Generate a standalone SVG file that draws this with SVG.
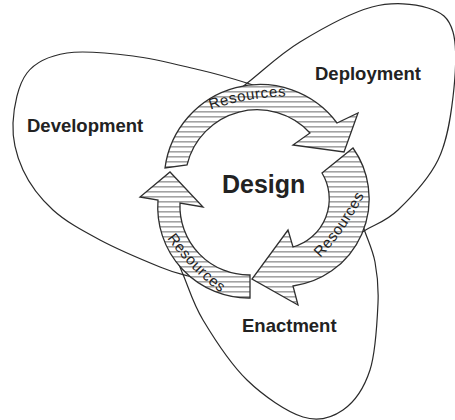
<svg xmlns="http://www.w3.org/2000/svg" width="455" height="420" viewBox="0 0 455 420">
<style>
.petal{fill:none;stroke:#2a2a2a;stroke-width:1.2}
.arrow{fill:url(#hatch);stroke:#2f2f2f;stroke-width:1.3;stroke-linejoin:miter}
.lbl{font-family:"Liberation Sans",Arial,sans-serif;font-weight:bold;font-size:18.5px;fill:#222}
.res{font-family:"Liberation Sans",Arial,sans-serif;font-size:15px;letter-spacing:0.6px;fill:#222}
</style>
<defs>
<pattern id="hatch" patternUnits="userSpaceOnUse" width="10" height="5">
<rect width="10" height="5" fill="#fff"/>
<rect y="1" width="10" height="1.6" fill="#a3a3a3"/>
</pattern>
<path id="pTop" d="M 205,111.5 A 250 250 0 0 1 292,96.5"/>
<path id="pRight" d="M 314,264 A 250 250 0 0 0 368,187"/>
<path id="pLeft" d="M 164,234 A 250 250 0 0 0 225,296"/>
</defs>
<rect width="455" height="420" fill="#fff"/>
<g id="development">
<path class="petal" d="M 270,91 L 250,84 C 233.3,78.7 219.5,74.5 200,70 C 180.5,65.5 155.2,58.8 133,56 C 110.8,53.2 84.7,50.2 67,53 C 49.3,55.8 36,61.3 27,73 C 18,84.7 13.7,106.8 13,123 C 12.3,139.2 16.3,155.5 23,170 C 29.7,184.5 40.2,198.3 53,210 C 65.8,221.7 82.2,230.5 100,240 C 117.8,249.5 145.3,261 160,267 C 174.7,273 178.8,273.5 188,276 L 205,281"/>
<text class="lbl" x="27" y="132">Development</text>
</g>
<g id="deployment">
<path class="petal" d="M 232,96 L 246,84 C 264,70 279,54.8 300,42 C 321,29.2 350.7,12.7 372,7 C 393.3,1.3 414.5,3.8 428,8 C 441.5,12.2 448.8,17.2 453,32 C 457.2,46.8 455.5,75.7 453,97 C 450.5,118.3 447.2,141.2 438,160 C 428.8,178.8 410.3,198.2 398,210 C 385.7,221.8 375.3,224 364,231 L 350,240"/>
<text class="lbl" x="315" y="80">Deployment</text>
</g>
<g id="enactment">
<path class="petal" d="M 176,257 L 182,272 C 189,288 192.2,302 203,320 C 213.8,338 230.3,363.8 247,380 C 263.7,396.2 287,412 303,417 C 319,422 331.8,417.8 343,410 C 354.2,402.2 364.2,387.8 370,370 C 375.8,352.2 377.2,321 378,303 C 378.8,285 377.3,274.3 375,262 C 372.7,249.7 367.7,240 364,229 L 360,217"/>
<text class="lbl" x="242" y="332">Enactment</text>
</g>
<g id="connectors">
<path id="arrowTop" class="arrow" d="M 165,168 A 96 96 0 0 1 337,123 L 358,113 L 344,152 L 293,145 L 310,133 A 72 72 0 0 0 187,165 Z"/>
<path id="arrowRight" class="arrow" d="M 322,173 L 353,148 A 88 88 0 0 1 293,286 L 298,305 L 252,279 L 288,230 L 293,247 A 50 50 0 0 0 322,173 Z"/>
<path id="arrowLeft" class="arrow" d="M 250,275 L 250,298 A 91 91 0 0 1 158,200 L 140,197 L 170,172 L 203,207 L 180,203 A 69 69 0 0 0 250,275 Z"/>
<text class="res"><textPath href="#pTop" startOffset="50%" text-anchor="middle">Resources</textPath></text>
<text class="res"><textPath href="#pRight" startOffset="50%" text-anchor="middle">Resources</textPath></text>
<text class="res"><textPath href="#pLeft" startOffset="50%" text-anchor="middle">Resources</textPath></text>
</g>
<g id="design">
<text x="222" y="193" style="font-family:'Liberation Sans',Arial,sans-serif;font-weight:bold;font-size:25px;fill:#222">Design</text>
</g>
</svg>
